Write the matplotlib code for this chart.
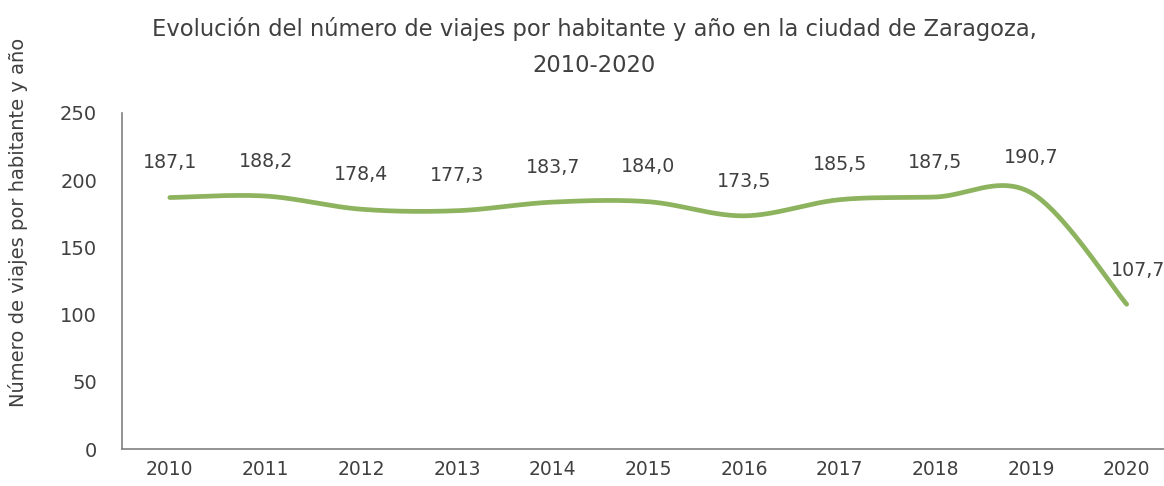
import numpy as np
import matplotlib
matplotlib.use("Agg")
import matplotlib.pyplot as plt

years = ["2010", "2011", "2012", "2013", "2014", "2015", "2016", "2017", "2018", "2019", "2020"]
values = [187.1, 188.2, 178.4, 177.3, 183.7, 184.0, 173.5, 185.5, 187.5, 190.7, 107.7]
labels = ["187,1", "188,2", "178,4", "177,3", "183,7", "184,0", "173,5", "185,5", "187,5", "190,7", "107,7"]

title = "Evolución del número de viajes por habitante y año en la ciudad de Zaragoza,\n2010-2020"
ylabel = "Número de viajes por habitante y año"

plt.rcParams['font.family'] = ['DejaVu Sans']

text_color = "#404040"
line_color = "#8DB35E"


def smooth(x, y, n=40):
    # Excel-like smoothing: Catmull-Rom to cubic Bezier
    x = np.asarray(x, float); y = np.asarray(y, float)
    px = np.concatenate([[x[0]], x, [x[-1]]])
    py = np.concatenate([[y[0]], y, [y[-1]]])
    xs, ys = [], []
    t = np.linspace(0, 1, n)
    for i in range(1, len(px) - 2):
        p0 = np.array([px[i], py[i]]); p3 = np.array([px[i + 1], py[i + 1]])
        p1 = p0 + (np.array([px[i + 1], py[i + 1]]) - np.array([px[i - 1], py[i - 1]])) / 6
        p2 = p3 - (np.array([px[i + 2], py[i + 2]]) - np.array([px[i], py[i]])) / 6
        b = ((1 - t) ** 3)[:, None] * p0 + (3 * (1 - t) ** 2 * t)[:, None] * p1 + \
            (3 * (1 - t) * t ** 2)[:, None] * p2 + (t ** 3)[:, None] * p3
        xs.append(b[:, 0]); ys.append(b[:, 1])
    return np.concatenate(xs), np.concatenate(ys)


fig = plt.figure(figsize=(11.64, 4.86), dpi=100)
ax = fig.add_axes([122 / 1164, 1 - 449 / 486, (1164 - 122) / 1164, (449 - 113) / 486])

x = np.arange(len(years))
sx, sy = smooth(x, values)
ax.plot(sx, sy, color=line_color, lw=3.4, solid_capstyle='round')

for i, (v, lab) in enumerate(zip(values, labels)):
    if i == len(values) - 1:
        ax.annotate(lab, (i, v), xytext=(8, 24), textcoords='offset points',
                    ha='center', va='center', fontsize=13.7, color=text_color)
    else:
        ax.annotate(lab, (i, v), xytext=(0, 25), textcoords='offset points',
                    ha='center', va='center', fontsize=13.7, color=text_color)

ax.set_xlim(-0.5, 10.39)
ax.set_ylim(0, 250)
ax.set_yticks([0, 50, 100, 150, 200, 250])
ax.set_xticks(x)
ax.set_xticklabels(years)
ax.tick_params(axis='both', length=0, colors=text_color)
ax.tick_params(axis='y', labelsize=14, pad=18)
ax.tick_params(axis='x', labelsize=13.5, pad=8)
for s in ['top', 'right']:
    ax.spines[s].set_visible(False)
for s in ['left', 'bottom']:
    ax.spines[s].set_color('#808080')
    ax.spines[s].set_linewidth(1.2)

fig.text(18 / 1164, 1 - 222 / 486, ylabel, rotation=90, ha='center', va='center',
         fontsize=14, color=text_color)
fig.text(0.5 + 12 / 1164, 1 - 47 / 486, title, ha='center', va='center', fontsize=16.3,
         color=text_color, linespacing=1.75)

fig.savefig("out.png", dpi=100)
